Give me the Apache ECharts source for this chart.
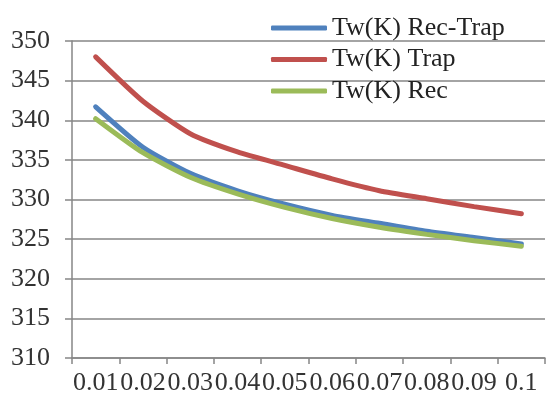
<!DOCTYPE html>
<html>
<head>
<meta charset="utf-8">
<script src="https://cdn.jsdelivr.net/npm/echarts@6/dist/echarts.min.js"></script>
<style>
    html, body { margin: 0; padding: 0; background: #fff; }
    #main { width: 547px; height: 401px; }
</style>
</head>
<body>
<div id="main"></div>
<script>
// x categories (depth values)
var categories = ['0.01', '0.02', '0.03', '0.04', '0.05', '0.06', '0.07', '0.08', '0.09', '0.1'];
// Tw(K) for each configuration
var recTrap = [341.7, 336.6, 333.3, 331.1, 329.4, 328.0, 327.0, 326.0, 325.2, 324.4];
var trap = [348.0, 342.4, 338.3, 336.0, 334.3, 332.6, 331.1, 330.1, 329.1, 328.2];
var rec = [340.2, 335.9, 332.8, 330.7, 329.0, 327.6, 326.5, 325.6, 324.8, 324.1];
var yMin = 310, yMax = 350, yStep = 5;

var font = 'Liberation Serif';
var myChart = echarts.init(document.getElementById('main'));
var option = {
    backgroundColor: '#fff',
    animation: false,
    color: ['#4F81BD', '#C0504D', '#9BBB59'],
    grid: {
        left: 72,
        right: 2,
        top: 41,
        bottom: 43
    },
    legend: {
        orient: 'vertical',
        left: 266,
        top: 10,
        itemWidth: 56,
        itemHeight: 5,
        itemGap: 5.5,
        icon: 'roundRect',
        textStyle: {
            fontFamily: font,
            fontSize: 26,
            lineHeight: 26,
            color: '#222'
        },
        data: ['Tw(K) Rec-Trap', 'Tw(K) Trap', 'Tw(K) Rec']
    },
    xAxis: {
        type: 'category',
        data: categories,
        boundaryGap: true,
        axisLine: { lineStyle: { color: '#868686', width: 1.5 } },
        axisTick: { show: true, length: 6, lineStyle: { color: '#868686', width: 1.5 } },
        axisLabel: {
            interval: 0,
            margin: 12,
            fontFamily: font,
            fontSize: 26,
            color: '#333'
        },
        splitLine: { show: false }
    },
    yAxis: {
        type: 'value',
        min: yMin,
        max: yMax,
        interval: yStep,
        axisLine: { show: true, lineStyle: { color: '#868686', width: 1.5 } },
        axisTick: { show: true, length: 7, lineStyle: { color: '#868686', width: 1.5 } },
        axisLabel: {
            margin: 22,
            fontFamily: font,
            fontSize: 26,
            color: '#333'
        },
        splitLine: { lineStyle: { color: '#868686', width: 1.5 } }
    },
    series: [
        {
            name: 'Tw(K) Rec-Trap',
            type: 'line',
            smooth: 0.2,
            showSymbol: false,
            lineStyle: { width: 5, cap: 'round' },
            data: recTrap,
            z: 3
        },
        {
            name: 'Tw(K) Trap',
            type: 'line',
            smooth: 0.2,
            showSymbol: false,
            lineStyle: { width: 5, cap: 'round' },
            data: trap,
            z: 2
        },
        {
            name: 'Tw(K) Rec',
            type: 'line',
            smooth: 0.2,
            showSymbol: false,
            lineStyle: { width: 5, cap: 'round' },
            data: rec,
            z: 4
        }
    ]
};
myChart.setOption(option);
</script>
</body>
</html>
